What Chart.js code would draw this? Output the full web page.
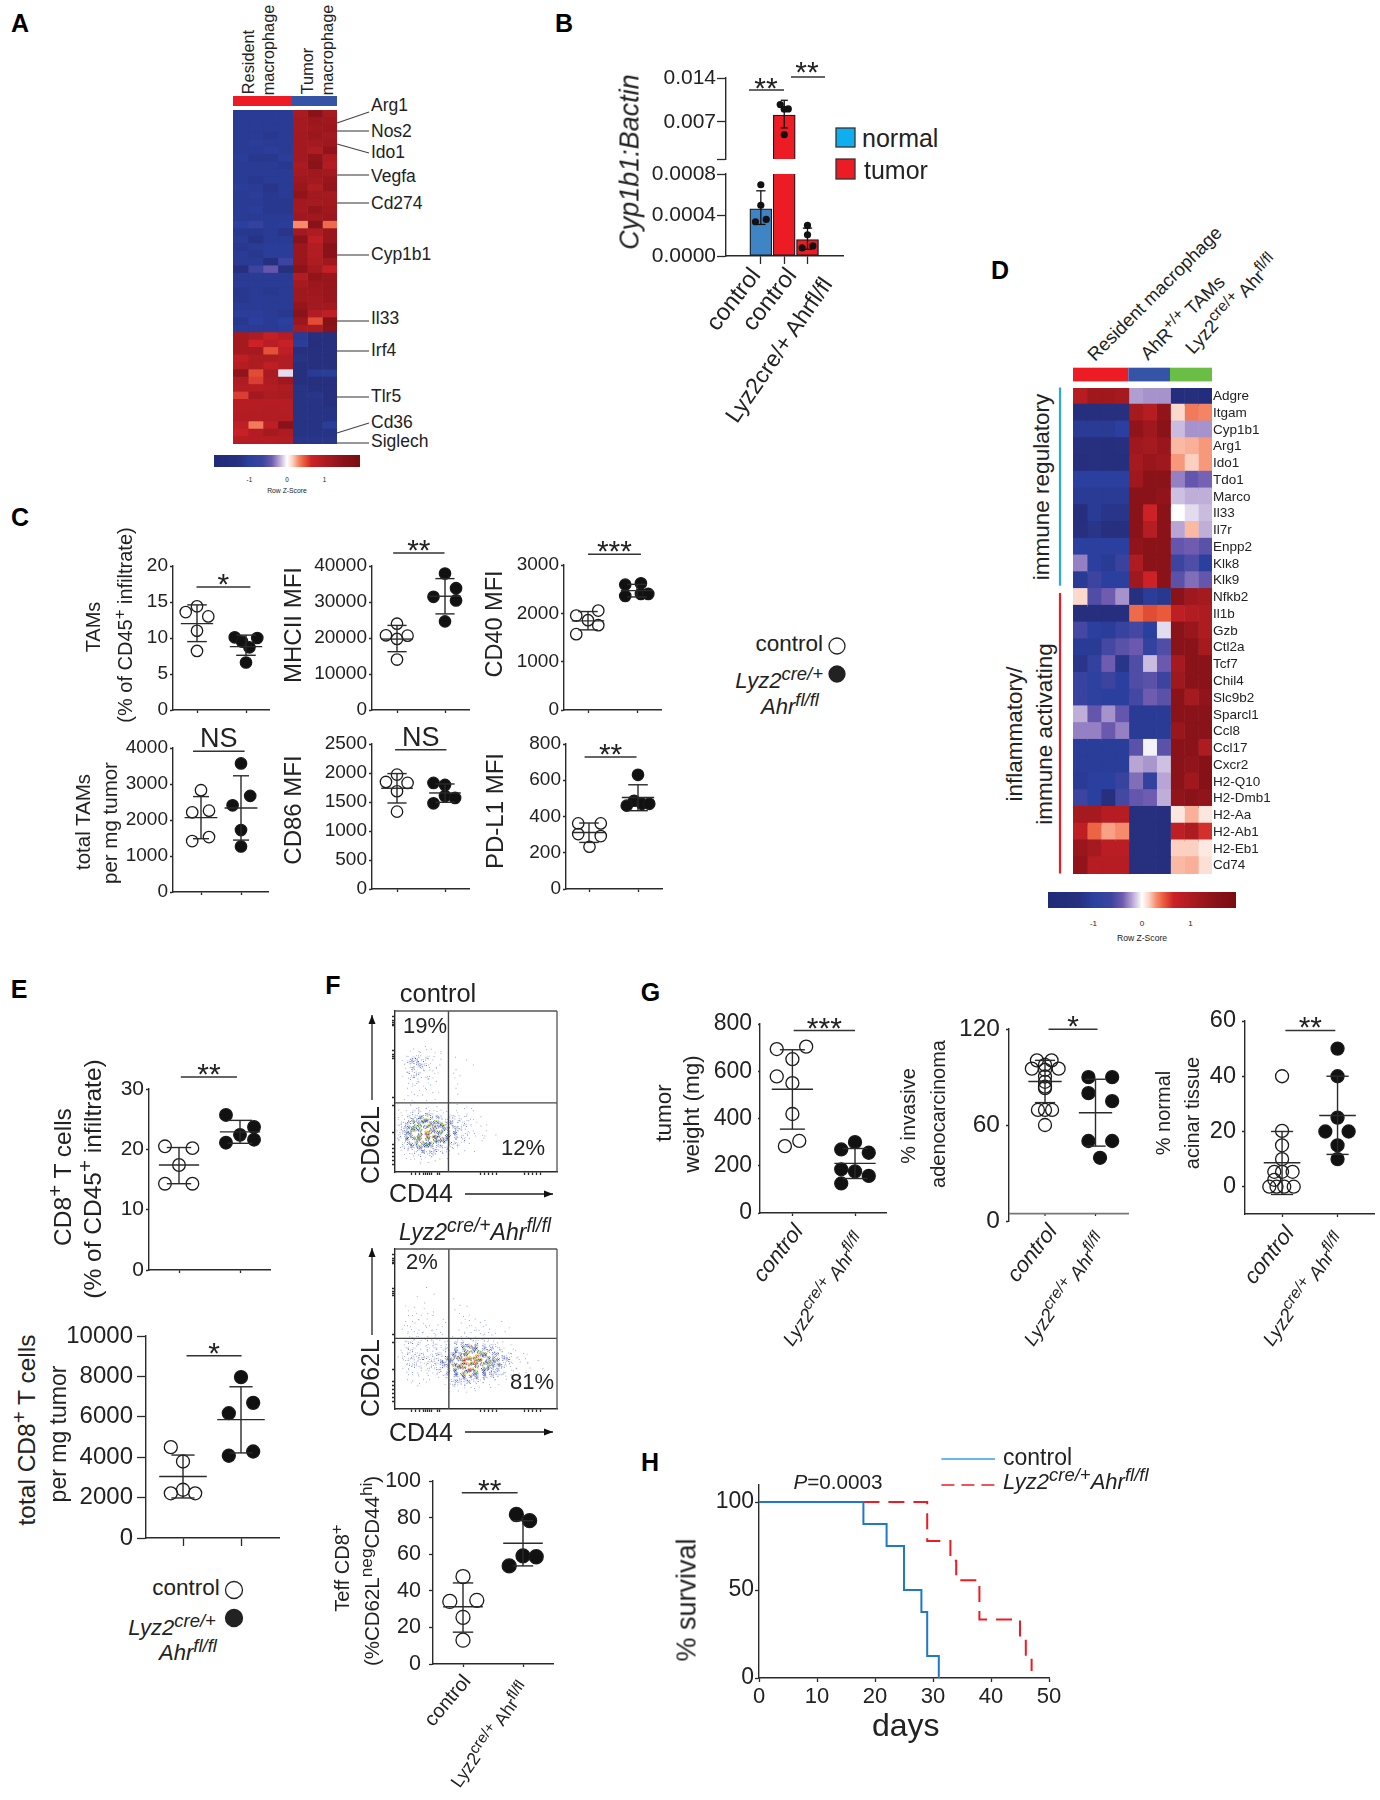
<!DOCTYPE html>
<html><head><meta charset="utf-8">
<style>
html,body{margin:0;padding:0;background:#fff}
#stage{position:relative;width:1380px;height:1800px;overflow:hidden;background:#fff;font-family:'Liberation Sans',Arial,sans-serif;color:#222;filter:blur(.3px)}
canvas{position:absolute;display:block}
.t{position:absolute;white-space:nowrap;line-height:1}
.t sup{font-size:.84em;line-height:0;vertical-align:baseline;position:relative;top:-.42em}
#ov{position:absolute;left:0;top:0}
</style>
<script src="https://cdn.jsdelivr.net/npm/chart.js@4"></script>
</head><body><div id="stage"><svg id="ov" width="1380" height="1800"></svg></div>
<script>
/* ---------- DATA ---------- */
const heatAGenes=['Arg1','Nos2','Ido1','Vegfa','Cd274','Cyp1b1','Il33','Irf4','Tlr5','Cd36','Siglech'];
const heatA=[
[-1.1,-1.1,-1.1,-1.1,1.05,1.5,1.1],[-1.1,-1.1,-1.1,-1.1,1.1,1.25,1.2],[-1.1,-1.1,-1.1,-1.1,1.1,1.2,1.25],
[-1.1,-1.1,-1.15,-1.1,1.15,1.25,1.15],[-1.1,-1.05,-1.1,-1.1,1.15,1.15,1.2],[-1.1,-1.1,-1.05,-1.1,1.15,1.0,1.4],
[-1.05,-1.15,-1.15,-1.05,1.15,1.4,1.0],[-1.1,-1.1,-1.1,-1.15,1.05,1.5,.95],[-1.1,-1.1,-1.1,-1.1,1.1,1.2,1.15],
[-1.1,-1.15,-1.1,-1.1,1.2,1.15,1.3],[-1.05,-1.1,-1.2,-1.1,1.3,1.0,1.35],[-1.1,-1.05,-1.15,-1.1,1.4,1.15,1.1],
[-1.1,-1.1,-1.15,-1.15,1.15,1.1,1.15],[-1.1,-1.05,-1.15,-1.15,1.1,1.35,1.2],[-1.1,-1.1,-1.1,-1.1,1.2,1.2,1.25],
[-1,-.8,-1.1,-1.05,.3,1.5,.4],[-1.15,-1.15,-1.1,-1.2,1.15,1.0,1.3],[-1.1,-1.25,-1.1,-1.1,1.5,.8,1.3],
[-1.15,-1.1,-1.05,-1.05,1.25,.95,1.5],[-1.1,-1.15,-1.05,-1.05,1.25,.95,1.5],[-1.1,-1.1,-1.35,-.65,1.3,1.0,1.2],
[-1.3,-.65,-.45,-1.35,1.45,1.1,.75],[-1.1,-1.1,-1.1,-1.1,.95,1.4,1.3],[-1.1,-1.1,-1.1,-1.1,1.1,1.25,1.3],
[-1.15,-1.1,-1.15,-1.1,1.2,1.2,1.3],[-1.15,-1.1,-1.1,-1.1,1.2,1.15,1.3],[-1.1,-1.1,-1.1,-1.1,1.35,1.15,1.15],
[-1.05,-1.05,-1.1,-1.15,1.5,.95,.8],[-1.15,-1,-1.1,-1,1.25,.5,1.6],[-1.1,-1.1,-1.1,-1.05,1.05,1.05,1.5],
[1.1,1.0,.75,.9,-1.1,-1.3,-1.3],[1.1,.65,.85,.7,-1.05,-1.4,-1.3],[1.1,1.1,.48,.8,-1.3,-1.3,-1.3],
[.8,1.0,1.0,.95,-1.25,-1.3,-1.3],[.9,1.0,.8,.95,-1.3,-1.3,-1.3],[1.4,.5,1.05,-.08,-1.3,-1.1,-1.05],
[1.0,.55,1.0,1.2,-1.3,-1.3,-1.3],[.95,.9,.95,1.0,-1.25,-1.3,-1.3],[.55,1.15,1.0,1.05,-1.25,-1.2,-1.3],
[.9,.9,.9,.9,-1.25,-1.25,-1.3],[.9,.9,.95,.9,-1.25,-1.25,-1.25],[.95,.95,.95,.95,-1.25,-1.25,-1.25],
[.8,.35,.8,1.5,-1.25,-1.25,-1.05],[.7,.95,1.1,1.0,-1.25,-1.25,-1.25],[.9,.9,.9,.95,-1.2,-1.2,-1.2]];
const heatDGenes=['Adgre','Itgam','Cyp1b1','Arg1','Ido1','Tdo1','Marco','Il33','Il7r','Enpp2','Klk8','Klk9','Nfkb2','Il1b','Gzb','Ctl2a','Tcf7','Chil4','Slc9b2','Sparcl1','Ccl8','Ccl17','Cxcr2','H2-Q10','H2-Dmb1','H2-Aa','H2-Ab1','H2-Eb1','Cd74'];
const heatD=[
[.9,1.2,1.2,1.1,-.22,-.25,-.25,-1.5,-1.4,-1.6],[-1.4,-1.4,-1.3,-1.3,1.1,.9,1.4,.12,.35,.32],
[-1.1,-1.1,-1.1,-1.0,1.4,1.2,1.5,-.15,-.25,-.25],[-1.3,-1.3,-1.4,-1.3,1.2,1.1,1.3,.2,.22,.27],
[-1.4,-1.3,-1.4,-1.4,1.1,1.3,1.2,.27,.15,.27],[-1.0,-1.0,-1.0,-1.0,1.2,1.5,1.5,-.3,-.45,-.38],
[-1.1,-1.1,-1.1,-1.1,1.5,1.5,1.4,-.14,-.18,-.18],[-1.4,-1.1,-1.2,-1.2,1.5,.65,1.5,0,-.08,-.15],
[-1.3,-1.2,-1.3,-1.3,1.5,.9,1.5,-.2,.2,-.18],[-1.0,-1.0,-1.0,-1.0,1.4,1.5,1.5,-.45,-.4,-.5],
[-.3,-1.0,-1.1,-.7,1.0,1.5,1.5,-.65,-.55,-1.0],[-1.1,-.65,-1.0,-1.0,1.2,.65,1.5,-.5,-.35,-.45],
[.12,-.55,-.4,-.25,-1.3,-1.05,-1.15,1.5,1.2,1.1],[-1.4,-1.4,-1.4,-1.4,.4,.5,.45,.8,.95,1.0],
[-.6,-1.0,-1.05,-.75,-.6,-1.0,-.08,1.5,1.3,1.0],[-1.1,-1.1,-.6,-.5,-.42,-.8,-.55,1.5,1.5,1.1],
[-1.2,-.8,-.4,-1.2,-.55,-.15,-.42,1.1,1.5,1.5],[-.75,-.95,-.65,-1.0,-.55,-.5,-.65,1.2,1.5,1.5],
[-.75,-.95,-1.0,-1.0,-.6,-.4,-.5,1.5,1.1,1.4],[-.18,-.45,-.25,-.45,-1.1,-1.1,-1.1,1.5,1.5,1.5],
[-.3,-.3,-.42,-.3,-1.1,-1.1,-1.1,1.3,1.5,1.5],[-1.05,-1.05,-1.05,-1.05,-.5,-.03,-.5,1.5,1.5,1.0],
[-1.05,-1.05,-1.05,-1.05,-.2,-.24,-.14,1.5,1.4,1.6],[-1.1,-1.0,-1.0,-.75,-.35,-.85,-.2,1.5,1.2,1.6],
[-.65,-1.0,-1.3,-.6,-.45,-.4,-.18,1.4,1.5,1.4],[1.1,1.1,.9,.9,-1.3,-1.3,-1.4,.08,.22,.08],
[.8,.42,.25,.3,-1.3,-1.3,-1.4,.8,1.0,.6],[1.3,1.1,.85,.85,-1.3,-1.3,-1.4,.15,.15,.07],
[1.4,.9,.9,.9,-1.3,-1.3,-1.4,.2,.22,.1]];
const zStops=[[-1.94,'#1f2a78'],[-1.3,'#26307f'],[-1,'#2b409e'],[-.64,'#3c449f'],[-.4,'#6f5bb0'],[-.2,'#b8a5d4'],[0,'#ffffff'],[.15,'#fbd0c0'],[.3,'#f68a6a'],[.45,'#e85a3a'],[.65,'#cc2127'],[1,'#ac1c21'],[1.5,'#8a1219'],[1.94,'#7a0c12']];
const colorbarTicks=['-1','0','1'];

/* B */
const bTicksTop=[0.014,0.007,0.0011], bLabelsTop=['0.014','0.007',''];
const bTicksLow=[0,0.0004,0.0008], bLabelsLow=['0.0000','0.0004','0.0008'];
const bBars=[0.00046,0.0081,0.00016];
const bTop=[0.000636,0.01045,0.000272], bLow=[0.000308,0.00605,0.000066];
const bDots1=[0.000334,0.000495,0.000357,0.000695], bDots2=[0.00976,0.00902,0.00907,0.00498], bDots3=[0.000079,0.000207,0.000098,0.000298];
const bDotX=[-.23,0,.23,0];

/* C */
const c1Ctrl=[13.6,14.4,13.0,11.0,8.2], c1CtrlX=[-.23,0,.23,0,0], c1CtrlS=[12.0,14.6,9.5];
const c1Mut=[10.1,9.5,10.0,8.7,6.6], c1MutX=[-.23,-.08,.23,.07,0], c1MutS=[8.8,10.4,7.6];
const c2Ctrl=[20745,23970,20650,19730,14010], c2CtrlX=[-.23,0,.22,0,0], c2CtrlS=[19700,23500,16200];
const c2Mut=[37900,33840,31440,30430,24620], c2MutX=[0,.23,-.24,.23,0], c2MutS=[31600,36500,26700];
const c3Ctrl=[1954,2057,1858,1754,1569], c3CtrlX=[-.24,.21,0,.21,-.24], c3CtrlS=[1844,2037,1658];
const c3Mut=[2594,2621,2360,2401,2401], c3MutX=[-.24,.08,-.24,.08,.23], c3MutS=[2470,2600,2339];
const c4Ctrl=[2828,2214,2260,1525,1414], c4CtrlX=[0,-.22,.2,.2,-.22], c4CtrlS=[2065,2650,1480];
const c4Mut=[3572,2670,2409,1721,1265], c4MutX=[0,.23,-.21,0,0], c4MutS=[2335,3228,1442];
const c5Ctrl=[1972,1846,1829,1685,1334], c5CtrlX=[0,-.23,.22,0,0], c5CtrlS=[1737,1990,1483];
const c5Mut=[1829,1794,1604,1478,1570], c5MutX=[-.24,0,0,-.24,.21], c5MutS=[1656,1811,1495];
const c6Ctrl=[362,362,303,292,233], c6CtrlX=[-.22,.24,-.22,.24,.01], c6CtrlS=[312,364,257];
const c6Mut=[630,487,460,470,470], c6MutX=[0,-.08,-.23,.08,.23], c6MutS=[505,575,432];

/* E */
const e1Ctrl=[20.5,20.2,17.4,14.3,14.3], e1CtrlX=[-.23,.22,0,-.23,.22], e1CtrlS=[17.4,20.3,14.3];
const e1Mut=[25.7,23.7,22.4,21.1,21.6], e1MutX=[-.23,.23,0,-.23,.23], e1MutS=[22.9,24.8,21.0];
const e2Ctrl=[4496,3788,2212,2389,2212], e2CtrlX=[-.21,0,-.21,0,.21], e2CtrlS=[3044,4106,1982];
const e2Mut=[7965,6690,6177,4071,4283], e2MutX=[0,.21,-.21,-.21,.21], e2MutS=[5859,7487,4212];

/* F: flow density, one digit per 4 px cell */
const flowControl=["","","","","","","","","",
"0000100101","000011101101","0011221211010001","0012332211010000010","00123332110100000001",
"00113322111000000","0012222111100001","0011221110100011","0001211211000001","00011211010000010",
"000111110100001","0000101101000","0010110100100001","0010100101000","0000010",
"0001101110100001001","01012221111101101011","0112223322211211111","1112334443322221211101",
"1233444544443332211100","12344555655544332211011","12345556555543322111001","1234455666654442221101001",
"12344555655543222111011","0123445555444322111001","0122344443332211100","01112333332221110101",
"0011122222111101","000111111101010","0001010101","00000010"];
const flowMutant=["","","","","","","","","","",
"00000000100","0000000001000","00000100000000100000","","0010000100000001010000","0000100100000010000",
"00010101010000001000","0001101001000000101000","00101110100100000110110000100","00110111101010001011101",
"0011110101110000110110110000100","001111111101100011111110101","0001111011110010111011110",
"001211121211110111122211100","0011221112111122333332222110100","0012211122112223445543332210100",
"01122221112222344555544332211010100","01212221222233455566655443321110100","0112222222233455666666554433211010010",
"00122212222334556666655544322110110","0011122112223345566655443322111001001","00111111112223445555444332211100100",
"000111111001123344444333221110100","00011010100112233332222111010","000010101000112222211111010",
"000001000000011111110101","000000000000010101001"];
const flowYTicks=[1.5,2.5,3,3.4,3.7,10,11,11.5,12,22,24,31,34,35,36,37,38,39];
const flowXTicks=[10.5,11,4,5,6,7,7.5,8,8.5,9,21,22,23,24,25,32,33,34,35,36];
const f3Ctrl=[47.8,34.2,34.8,25.5,13], f3CtrlX=[0,-.22,.23,0,0], f3CtrlS=[31.3,44.3,17.4];
const f3Mut=[81.7,78.3,59.1,58.6,53.6], f3MutX=[-.11,.11,0,.22,-.23], f3MutS=[66,78.3,53.6];

/* G */
const g1Ctrl=[694,704,651,578,550,419,305,283], g1CtrlX=[-.25,.22,0,-.25,0,0,.11,-.12], g1CtrlS=[524,691,355];
const g1Mut=[300,269,255,185,176,157,125], g1MutX=[0,-.22,.22,-.22,0,.22,-.22], g1MutS=[210,273,146];
const g2Ctrl=[100.4,100.4,97.6,95.2,95.2,94.5,90.3,87,84,83,69.4,69.4,69.4,60], g2CtrlX=[-.16,.13,0,-.26,.27,0,0,0,0,0,-.14,.14,0,0], g2CtrlS=[87.2,100.4,74];
const g2Mut=[89.9,89.9,79.9,74.9,50,50,39.5], g2MutX=[-.14,.33,-.14,.33,-.14,.33,.09], g2MutS=[67.7,88.6,46.8];
const g3Ctrl=[40,20.2,15,10,5.4,5.4,5.4,2.5,0,0,0,0], g3CtrlX=[0,0,0,0,-.14,0,.19,-.14,-.23,-.1,.04,.21], g3CtrlS=[8.7,20,-2.8];
const g3Mut=[50,40,25,20,20,15,10], g3MutX=[0,0,0,-.22,.2,0,0], g3MutS=[25.8,40,11.7];

/* H */
const survDaysCtrl=[0,18,22,25,28,29,31], survCtrl=[100,87.5,75,50,37.5,12.5,0];
const survDaysMut=[18,29,33,34,38,45,46,47], survMut=[100,77.8,66.7,55.6,33.3,22.2,11.1,4];
const survDayTicks=[0,10,20,30,40,50], survPctTicks=[0,50,100];

/* ---------- HELPERS ---------- */
Chart.defaults.font.family="'Liberation Sans',Arial,sans-serif";
Chart.defaults.color='#222';
const INK='#2a2a2a', stage=document.getElementById('stage'), ov=document.getElementById('ov');
function hex(h){return [1,3,5].map(i=>parseInt(h.slice(i,i+2),16));}
function zColor(z){
  for(let i=1;i<zStops.length;i++){ if(z<=zStops[i][0]){
    const [a,ca]=zStops[i-1],[b,cb]=zStops[i],t=Math.max(0,(z-a)/(b-a)),A=hex(ca),B=hex(cb);
    return `rgb(${A.map((v,k)=>Math.round(v+(B[k]-v)*t)).join(',')})`; } }
  return zStops[zStops.length-1][1];
}
function txt(html,cx,cy,size,rot=0,o={}){
  const d=document.createElement('div'); d.className='t'; d.innerHTML=html;
  const ax=o.anchor==='r'?'-100%':o.anchor==='l'?'0':'-50%';
  d.style.cssText=`left:${cx}px;top:${cy}px;font-size:${size}px;transform:translate(${ax},-50%) rotate(${rot}deg);`+
    (o.bold?'font-weight:bold;':'')+(o.italic?'font-style:italic;':'')+(o.color?`color:${o.color};`:'');
  stage.appendChild(d);
}
function svg(tag,attrs){const e=document.createElementNS('http://www.w3.org/2000/svg',tag);for(const k in attrs)e.setAttribute(k,attrs[k]);ov.appendChild(e);return e;}
function line(x1,y1,x2,y2,c=INK,w=1.4,dash){const a={x1,y1,x2,y2,stroke:c,'stroke-width':w};if(dash)a['stroke-dasharray']=dash;svg('line',a);}
function rect(x,y,w,h,fill,stroke){const a={x,y,width:w,height:h,fill};if(stroke){a.stroke=stroke;a['stroke-width']=1.3;}svg('rect',a);}
function circle(cx,cy,r,fill){svg('circle',{cx,cy,r,fill,stroke:'#222','stroke-width':1.3});}
function arrow(x1,y1,x2,y2){line(x1,y1,x2,y2,'#222',1.3);const dx=Math.sign(x2-x1),dy=Math.sign(y2-y1),L=9,W=3.5;
  const p=dx?`${x2},${y2} ${x2-dx*L},${y2-W} ${x2-dx*L},${y2+W}`:`${x2},${y2} ${x2-W},${y2-dy*L} ${x2+W},${y2-dy*L}`;svg('polygon',{points:p,fill:'#111'});}

/* place a chart so that its plot area is exactly left..right / top..bottom in page pixels */
function place(left,top,right,bottom,config,pad={}){
  const pL=pad.l??90,pR=pad.r??12,pT=pad.t??50,pB=pad.b??14;
  const c=document.createElement('canvas');
  const W=Math.round(right-left+pL+pR),H=Math.round(bottom-top+pT+pB);
  c.width=W;c.height=H;c.style.left=(left-pL)+'px';c.style.top=(top-pT)+'px';c.style.width=W+'px';c.style.height=H+'px';
  stage.appendChild(c);
  config.options=config.options||{};
  Object.assign(config.options,{responsive:false,animation:false,devicePixelRatio:1,events:[]});
  config.options.layout={padding:{top:pT,right:pad.rAxis?0:pR,left:0,bottom:0},autoPadding:false};
  config.options.plugins=Object.assign({legend:{display:false},tooltip:{enabled:false},title:{display:false}},config.options.plugins||{});
  const s=config.options.scales;
  const noPad=a=>{a.paddingTop=a.paddingBottom=a.paddingLeft=a.paddingRight=0;};
  s.x.afterFit=a=>{a.height=pB;noPad(a);};
  s.y.afterFit=a=>{a.width=pad.rAxis?pR:pL;noPad(a);};
  return new Chart(c,config);
}
function seg(x0,y0,x1,y1,color=INK,w=1.4,order=0){
  return {type:'scatter',showLine:true,data:[{x:x0,y:y0},{x:x1,y:y1}],borderColor:color,borderWidth:w,pointRadius:0,clip:false,order};
}
function axisX(min,max,tickVals,tl,o={}){
  return {type:'linear',min,max,afterBuildTicks:a=>{a.ticks=tickVals.map(value=>({value}));},
    ticks:{display:false,autoSkip:false,maxRotation:0},
    grid:{drawOnChartArea:false,drawTicks:o.noTicks?false:true,tickLength:tl,tickColor:INK,tickWidth:1.3,offset:false},
    border:{display:!o.noBorder,color:INK,width:1.4}};
}
function axisY(min,max,tickVals,labels,size,tl,pad,o={}){
  return {type:'linear',min,max,reverse:!!o.reverse,afterBuildTicks:a=>{a.ticks=tickVals.map(value=>({value}));},
    ticks:{autoSkip:false,maxRotation:0,padding:pad,color:'#222',font:{size},
      display:labels!==null,callback:(v,i)=>labels?labels[i]:String(v)},
    grid:{drawOnChartArea:false,tickLength:tl,tickColor:INK,tickWidth:1.3},
    border:{color:INK,width:1.4}};
}
const textPlugin={id:'sigText',afterDraw(ch,a,o){
  if(!o||!o.text)return;const ctx=ch.ctx,x=ch.scales.x.getPixelForValue(o.xc),y=ch.scales.y.getPixelForValue(o.y);
  ctx.save();ctx.fillStyle='#222';ctx.textAlign='center';ctx.textBaseline='alphabetic';
  const stars=o.text[0]==='*';ctx.font=`${o.size}px 'Liberation Sans'`;
  ctx.fillText(o.text,x,stars?y+0.57*o.size-o.gap:y-o.gap);ctx.restore();}};
Chart.register(textPlugin);

function dot(s){
  const sp=s.c2-s.c1,xmin=1-(s.c1-s.left)/sp,xmax=2+(s.right-s.c2)/sp,mw=s.mw??.33,cw=s.cw??.2,r=s.r??5.7;
  const mk=(c,arr,xs,fill)=>({type:'scatter',data:arr.map((y,i)=>({x:c+xs[i],y})),pointRadius:r,pointBackgroundColor:fill,pointBorderColor:'#1a1a1a',pointBorderWidth:1.3,clip:false,order:1});
  const sd=(c,[m,u,l])=>[seg(c-mw,m,c+mw,m),seg(c,u,c,l),seg(c-cw,u,c+cw,u),seg(c-cw,l,c+cw,l)];
  const ds=[mk(1,s.ctrl,s.ctrlX,'rgba(255,255,255,0)'),mk(2,s.mut,s.mutX,'#111'),...sd(1,s.ctrlS),...sd(2,s.mutS),seg(s.sig[0],s.sig[2],s.sig[1],s.sig[2],'#333',1.5)];
  if(s.xAxisAt!==undefined){ds.push(seg(xmin,s.xAxisAt,xmax,s.xAxisAt,'#777',1.6),seg(1,s.xAxisAt,1,s.xAxisAt-(s.xTickV||2),INK,1.2),seg(2,s.xAxisAt,2,s.xAxisAt-(s.xTickV||2),INK,1.2));}
  const sig=s.sig[3]==='NS'?{size:s.sigSize||27,gap:4}:{size:s.sigSize||30,gap:s.sigGap||10};
  place(s.left,s.top,s.right,s.bottom,{type:'scatter',data:{datasets:ds},options:{
    scales:{x:axisX(xmin,xmax,[1,2],s.xTick??3,{noTicks:s.xAxisAt!==undefined,noBorder:s.xAxisAt!==undefined}),
      y:axisY(s.ymin??0,s.ymax,s.ticks,s.tickLabels||undefined,s.font??19,s.yTick??3,s.tickPad??2)},
    plugins:{sigText:{text:s.sig[3],xc:s.sigX??(s.sig[0]+s.sig[1])/2,y:s.sig[2],size:sig.size,gap:sig.gap}}}},{l:100});
}
function heat(left,top,right,bottom,rows,genes,tick){
  const nc=rows[0].length,labels=genes||rows.map((_,i)=>String(i+1)),ds=[];
  for(let c=0;c<nc;c++){const cols=rows.map(r=>zColor(r[c]));
    ds.push({data:rows.map(()=>[c,c+(c<nc-1?1.04:1)]),backgroundColor:cols,borderWidth:0,barPercentage:1.12,categoryPercentage:1,grouped:false});}
  place(left,top,right,bottom,{type:'bar',data:{labels,datasets:ds},options:{indexAxis:'y',
    scales:{x:{type:'linear',min:0,max:nc,display:false},
      y:{type:'category',position:tick?'right':'left',display:!!tick,
        ticks:tick?{autoSkip:false,padding:1,color:'#222',font:{size:tick}}:{},grid:{display:false,drawTicks:false},border:{display:false}}}}},
    tick?{l:0,r:90,t:0,b:0,rAxis:true}:{l:0,r:0,t:0,b:0});
}
function colorbar(x0,x1,y0,y1,ty,ly,lsize){
  const d=document.createElement('div');const g=zStops.map(([z,c])=>`${c} ${((z+1.94)/3.88*100).toFixed(1)}%`).join(',');
  d.style.cssText=`position:absolute;left:${x0}px;top:${y0}px;width:${x1-x0}px;height:${y1-y0}px;background:linear-gradient(90deg,${g})`;stage.appendChild(d);
  const mid=(x0+x1)/2,u=(x1-x0)/3.88;
  colorbarTicks.forEach(t=>txt(t,mid+Number(t)*u,ty,lsize-.5));
  txt('Row Z-Score',mid,ly,lsize);
}
function flow(left,top,right,bottom,grid,vx,hy){
  const palette=[[],['#8f9ce0'],['#8f9ce0','#4f62c4','#aab4e6'],['#4f62c4','#9aa6e4','#27358f','#4f62c4','#8f9ce0'],
    ['#4f62c4','#27358f','#3ea06a','#8f9bdd','#27358f','#4f62c4','#f2e13a','#3c4cb0'],
    ['#27358f','#3ea06a','#f2e13a','#4f62c4','#ef8a2a','#27358f','#3ea06a','#4f62c4','#27358f','#f2e13a'],
    ['#ef8a2a','#d8262a','#f2e13a','#3ea06a','#27358f','#e8542a','#f2e13a','#3ea06a','#ef8a2a','#d8262a','#27358f','#f2e13a']];
  const off=[[.22,.3],[.75,.68],[.68,.18],[.18,.82],[.48,.5],[.92,.42],[.38,.08],[.6,.9],[.05,.55],[.85,.95],[.3,.62],[.55,.3]],pts=[],cols=[];
  grid.forEach((row,r)=>[...row].forEach((ch,c)=>{const d=Number(ch),n=palette[d].length,flip=(r+c)%2,
      sx=((r*r*3+c*c*5+r*c)%7)/7-.43,sy=((r*c*3+r*5+c*c*2)%11)/11-.45;
    for(let k=0;k<n;k++){const o=off[k];pts.push({x:c+sx+(flip?1-o[0]:o[0]),y:r+sy+o[1]});cols.push(palette[d][k]);}}));
  const nr=41;
  const ds=[{type:'scatter',data:pts,pointStyle:'rect',pointRadius:.65,pointBackgroundColor:cols,pointBorderWidth:0,order:2},
    seg(0,0,40,0,'#555',1.3),seg(40,0,40,nr,'#555',1.3),seg(vx,0,vx,nr,'#444',1.4),seg(0,hy,40,hy,'#444',1.4)];
  place(left,top,right,bottom,{type:'scatter',data:{datasets:ds},options:{scales:{
    x:axisX(0,40,flowXTicks,3),
    y:axisY(0,nr,flowYTicks,null,10,3,0,{reverse:true})}}},{l:8,r:4,t:4,b:8});
}

/* ---------- PANEL LETTERS ---------- */
[['A',20,23],['B',564,23],['C',20,517],['D',1000,270],['E',19,989],['F',333,985],['G',650.5,992],['H',650,1462]].forEach(([l,x,y])=>txt(l,x,y,25,0,{bold:true,color:'#000'}));

/* ---------- A ---------- */
rect(233,96,59,10,'#ed1c24');rect(292,96,45,10,'#3554a5');
heat(233,110,337,444,heatA);
txt('Resident',248,62,16.3,-90);txt('macrophage',268,50,16.3,-90);txt('Tumor',307,71,16.3,-90);txt('macrophage',327,50,16.3,-90);
const aLabelY=[106,132,153,177,204,255,319,351,397,423,442];
heatAGenes.forEach((g,i)=>txt(g,371,aLabelY[i],17.5,0,{anchor:'l'}));
[[123,112],[131,131],[144,153],[175,175],[203,203],[255,255],[321,321],[351,351],[397,397],[433,423],[443,443]].forEach(([a,b])=>line(337,a,369,b,'#444',1.1));
colorbar(214,360,455,467,480,491,6.8);

/* ---------- B ---------- */
const bC=[749,784,819],bS=35,bMin=1-(749-726)/bS,bMax=3+(843-819)/bS;
function bDot(c,arr){return {type:'scatter',data:arr.map((y,i)=>({x:c+bDotX[i],y})),pointRadius:3.6,pointBackgroundColor:'#111',pointBorderWidth:0,clip:false,order:0};}
function bErr(c){const w=.2;return [seg(c,bTop[c-1],c,bLow[c-1],'#111',1.3),seg(c-w,bTop[c-1],c+w,bTop[c-1],'#111',1.3),seg(c-w,bLow[c-1],c+w,bLow[c-1],'#111',1.3)];}
const bBar=(c,col)=>({type:'bar',data:[{x:c,y:bBars[c-1]}],backgroundColor:col,borderColor:'#1c1c1c',borderWidth:1.3,borderSkipped:false,barThickness:22,grouped:false,order:3});
place(726,78,843,159,{type:'bar',data:{datasets:[bBar(2,'#ed1c24'),bDot(2,bDots2),...bErr(2)]},options:{scales:{
  x:{type:'linear',min:bMin,max:bMax,ticks:{display:false},grid:{display:false},border:{display:false}},
  y:axisY(bTicksTop[2],bTicksTop[0],bTicksTop,bLabelsTop,21,9,1)}}},{l:110,t:20,b:4});
place(726,174,843,256,{type:'bar',data:{datasets:[bBar(1,'#3f85c6'),bBar(2,'#ed1c24'),bBar(3,'#ed1c24'),bDot(1,bDots1),bDot(3,bDots3),...bErr(1),...bErr(3)]},options:{scales:{
  x:axisX(bMin,bMax,[1,2,3],8),
  y:axisY(0,bTicksLow[2],bTicksLow,bLabelsLow,21,9,1)}}},{l:110,t:20,b:12});
line(749,90,784,90,'#333',1.4);line(791,77,825,77,'#333',1.4);
txt('**',766,88,30);txt('**',807,72,30);
txt('Cyp1b1:Bactin',630,162,27,-90,{italic:true});
txt('control',733,299,24,-52);txt('control',769,299,24,-52);txt('Lyz2cre/+ Ahrfl/fl',779,350,23,-55.5);
rect(836,128,19,19,'#0eaeef','#333');rect(836,159,19,20,'#ed1c24','#333');
txt('normal',862,138,25,0,{anchor:'l'});txt('tumor',864,170,25,0,{anchor:'l'});

/* ---------- C ---------- */
const cFont=19;
dot({left:173,right:269,top:566,bottom:710,c1:197,c2:246,ymax:20,ticks:[0,5,10,15,20],font:cFont,ctrl:c1Ctrl,ctrlX:c1CtrlX,ctrlS:c1CtrlS,mut:c1Mut,mutX:c1MutX,mutS:c1MutS,sig:[.99,2.09,17.1,'*']});
dot({left:372,right:469,top:566,bottom:710,c1:397,c2:445,ymax:40000,ticks:[0,10000,20000,30000,40000],font:cFont,ctrl:c2Ctrl,ctrlX:c2CtrlX,ctrlS:c2CtrlS,mut:c2Mut,mutX:c2MutX,mutS:c2MutS,sig:[.92,1.99,43600,'**']});
dot({left:564,right:661,top:565,bottom:710,c1:588,c2:637,ymax:3000,ticks:[0,1000,2000,3000],font:cFont,ctrl:c3Ctrl,ctrlX:c3CtrlX,ctrlS:c3CtrlS,mut:c3Mut,mutX:c3MutX,mutS:c3MutS,sig:[1.0,2.08,3220,'***']});
dot({left:173,right:268,top:748,bottom:892,c1:201,c2:241,ymax:4000,ticks:[0,1000,2000,3000,4000],font:cFont,mw:.41,ctrl:c4Ctrl,ctrlX:c4CtrlX,ctrlS:c4CtrlS,mut:c4Mut,mutX:c4MutX,mutS:c4MutS,sig:[.8,2.09,3907,'NS']});
dot({left:372,right:469,top:744,bottom:889,c1:397,c2:445,ymax:2500,ticks:[0,500,1000,1500,2000,2500],font:cFont,ctrl:c5Ctrl,ctrlX:c5CtrlX,ctrlS:c5CtrlS,mut:c5Mut,mutX:c5MutX,mutS:c5MutS,sig:[.96,2.03,2403,'NS']});
dot({left:566,right:662,top:744,bottom:889,c1:589,c2:638,ymax:800,ticks:[0,200,400,600,800],font:cFont,ctrl:c6Ctrl,ctrlX:c6CtrlX,ctrlS:c6CtrlS,mut:c6Mut,mutX:c6MutX,mutS:c6MutS,sig:[.91,1.97,728,'**']});
txt('TAMs',93,627,20,-90);txt('(% of CD45<sup>+</sup> infiltrate)',125,625,20,-90);
txt('MHCII MFI',293,625,24,-90);txt('CD40 MFI',495,624,23.5,-90);
txt('total TAMs',83,822,20.5,-90);txt('per mg tumor',110,823,20.5,-90);
txt('CD86 MFI',293,810,24,-90);txt('PD-L1 MFI',495,811,24,-90);
txt('control',823,644,22.5,0,{anchor:'r'});circle(837,646,8,'#fff');
txt('Lyz2<sup>cre/+</sup>',823,681,22,0,{anchor:'r',italic:true});circle(837,674,8,'#222');
txt('Ahr<sup>fl/fl</sup>',790,707,22,0,{italic:true});

/* ---------- D ---------- */
rect(1073,367.7,55.3,13.7,'#ed1c24');rect(1128.3,367.7,41.7,13.7,'#3554a5');rect(1170,367.7,42,13.7,'#6abd45');
heat(1073,388,1212,873.6,heatD,heatDGenes,13.5);
txt('Resident macrophage',1155,294,18.5,-45);txt('AhR<sup>+/+</sup> TAMs',1183,318,18.5,-45);txt('Lyz2<sup>cre/+</sup> Ahr<sup>fl/fl</sup>',1232,305,18.5,-47);
txt('immune regulatory',1042,487,22.5,-90);txt('inflammatory/',1015,734,22.5,-90);txt('immune activating',1045,734,22.5,-90);
line(1060,387.5,1060,585.7,'#29abe2',2.2);line(1060,593,1060,873.6,'#ed1c24',2.2);
colorbar(1048,1236,891.5,908,923.6,937.8,8.6);

/* ---------- E ---------- */
dot({left:149,right:270,top:1088.6,bottom:1269.3,c1:179,c2:240,ymax:30,ticks:[0,10,20,30],font:21,r:6.3,yTick:3,ctrl:e1Ctrl,ctrlX:e1CtrlX,ctrlS:e1CtrlS,mut:e1Mut,mutX:e1MutX,mutS:e1MutS,sig:[1.03,1.95,32,'**']});
dot({left:146,right:279,top:1336,bottom:1538.3,c1:183,c2:241,ymax:10000,ticks:[0,2000,4000,6000,8000,10000],font:24,r:6.5,mw:.41,yTick:9,xTick:8,tickPad:4,ctrl:e2Ctrl,ctrlX:e2CtrlX,ctrlS:e2CtrlS,mut:e2Mut,mutX:e2MutX,mutS:e2MutS,sig:[1.06,2.01,9027,'*']});
txt('CD8<sup>+</sup> T cells',63,1177,24.5,-90);txt('(% of CD45<sup>+</sup> infiltrate)',93,1179,24.5,-90);
txt('total CD8<sup>+</sup> T cells',27,1430,24.5,-90);txt('per mg tumor',58,1434,23,-90);
txt('control',186,1588,22.5);circle(234,1590,8.5,'#fff');
txt('Lyz2<sup>cre/+</sup>',172,1628,22,0,{italic:true});circle(234,1618,8.5,'#222');
txt('Ahr<sup>fl/fl</sup>',188,1653,22,0,{italic:true});

/* ---------- F ---------- */
flow(395,1011,557,1172,flowControl,13.2,23.4);
flow(395,1249,557,1409,flowMutant,13.3,22.9);
txt('control',438,994,25.5);
txt('19%',425,1026,22);txt('12%',523,1148,22);txt('2%',422,1262,22);txt('81%',532,1382,22);
txt('CD44',421,1193,25);txt('CD44',421,1432,25);
txt('CD62L',370,1145,25,-90);txt('CD62L',370,1378,25,-90);
arrow(465,1194,553,1194);arrow(465,1432,553,1432);
arrow(372,1100,372,1015);arrow(372,1335,372,1248);
txt('Lyz2<sup>cre/+</sup>Ahr<sup>fl/fl</sup>',475,1232,23,0,{italic:true});
dot({left:433,right:553,top:1481,bottom:1663.5,c1:463,c2:523,ymax:100,ticks:[0,20,40,60,80,100],font:21.5,r:7,cw:.17,yTick:4,tickPad:8,ctrl:f3Ctrl,ctrlX:f3CtrlX,ctrlS:f3CtrlS,mut:f3Mut,mutX:f3MutX,mutS:f3MutS,sig:[.98,1.91,93.6,'**']});
txt('Teff CD8<sup>+</sup>',342,1568,20,-90);txt('(%CD62L<sup>neg</sup>CD44<sup>hi</sup>)',372,1571,20.5,-90);
txt('control',447,1700,20,-50);txt('Lyz2<sup>cre/+</sup> Ahr<sup>fl/fl</sup>',490,1735,18,-55);

/* ---------- G ---------- */
dot({left:759.6,right:885.6,top:1024,bottom:1212.7,c1:792,c2:854.6,ymax:800,ticks:[0,200,400,600,800],font:23,r:6.5,yTick:2,tickPad:6,ctrl:g1Ctrl,ctrlX:g1CtrlX,ctrlS:g1CtrlS,mut:g1Mut,mutX:g1MutX,mutS:g1MutS,sig:[1.02,2.0,772,'***']});
dot({left:1009,right:1129,top:1029,bottom:1220.6,c1:1045,c2:1095.5,ymax:120,ticks:[0,60,120],font:24.5,r:6.5,tickPad:6,xAxisAt:4.6,xTickV:1.5,ctrl:g2Ctrl,ctrlX:g2CtrlX,ctrlS:g2CtrlS,mut:g2Mut,mutX:g2MutX,mutS:g2MutS,sig:[1.07,2.04,119.8,'*']});
dot({left:1245,right:1373.8,top:1020.7,bottom:1214,c1:1282,c2:1337.4,ymin:-9.88,ymax:60,ticks:[0,20,40,60],font:23.5,r:6.5,tickPad:6,ctrl:g3Ctrl,ctrlX:g3CtrlX,ctrlS:g3CtrlS,mut:g3Mut,mutX:g3MutX,mutS:g3MutS,sig:[1.06,1.96,56.6,'**']});
txt('tumor',663.6,1113,22.5,-90);txt('weight (mg)',691.7,1114,22.5,-90);
txt('% invasive',908.4,1116,20,-90);txt('adenocarcinoma',937.5,1114,20,-90);
txt('% normal',1163,1113,20,-90);txt('acinar tissue',1192,1113,20,-90);
[[777.5,1253],[1032,1253],[1268.6,1255]].forEach(([x,y])=>txt('control',x,y,22,-51.6,{italic:true}));
[[823.6,1290],[1065,1290],[1303.5,1290]].forEach(([x,y])=>txt('Lyz2<sup>cre/+</sup> Ahr<sup>fl/fl</sup>',x,y,19,-55.5,{italic:true}));

/* ---------- H ---------- */
const toPts=(xs,ys)=>xs.map((x,i)=>({x,y:ys[i]}));
place(759.3,1485,1049.3,1678,{type:'scatter',data:{datasets:[
  {type:'scatter',showLine:true,stepped:true,data:toPts(survDaysCtrl,survCtrl),borderColor:'#1f78c8',borderWidth:2,pointRadius:0,clip:false,order:0},
  {type:'scatter',showLine:true,stepped:true,data:toPts(survDaysMut,survMut),borderColor:'#ed1c24',borderWidth:2,borderDash:[16,9],pointRadius:0,clip:false,order:1}]},
  options:{scales:{
    x:{type:'linear',min:0,max:50,afterBuildTicks:a=>{a.ticks=survDayTicks.map(value=>({value}));},
      ticks:{autoSkip:false,maxRotation:0,padding:2,color:'#222',font:{size:22},callback:v=>String(v)},
      grid:{drawOnChartArea:false,tickLength:4,tickColor:INK,tickWidth:1.3},border:{color:INK,width:1.4}},
    y:axisY(0,109.7,survPctTicks,undefined,23,4,1)}}},{l:60,r:24,t:6,b:34});
txt('days',905.7,1725,32);txt('% survival',687,1600,27,-90);
txt('<i>P</i>=0.0003',838,1482,20.7);
line(941.4,1459,995,1459,'#6ab8e8',2);line(941.4,1485,995,1485,'#ed1c24',1.6,'13 7');
txt('control',1003,1457,23,0,{anchor:'l'});txt('Lyz2<sup>cre/+</sup>Ahr<sup>fl/fl</sup>',1003,1482,22,0,{anchor:'l',italic:true});
</script></body></html>
